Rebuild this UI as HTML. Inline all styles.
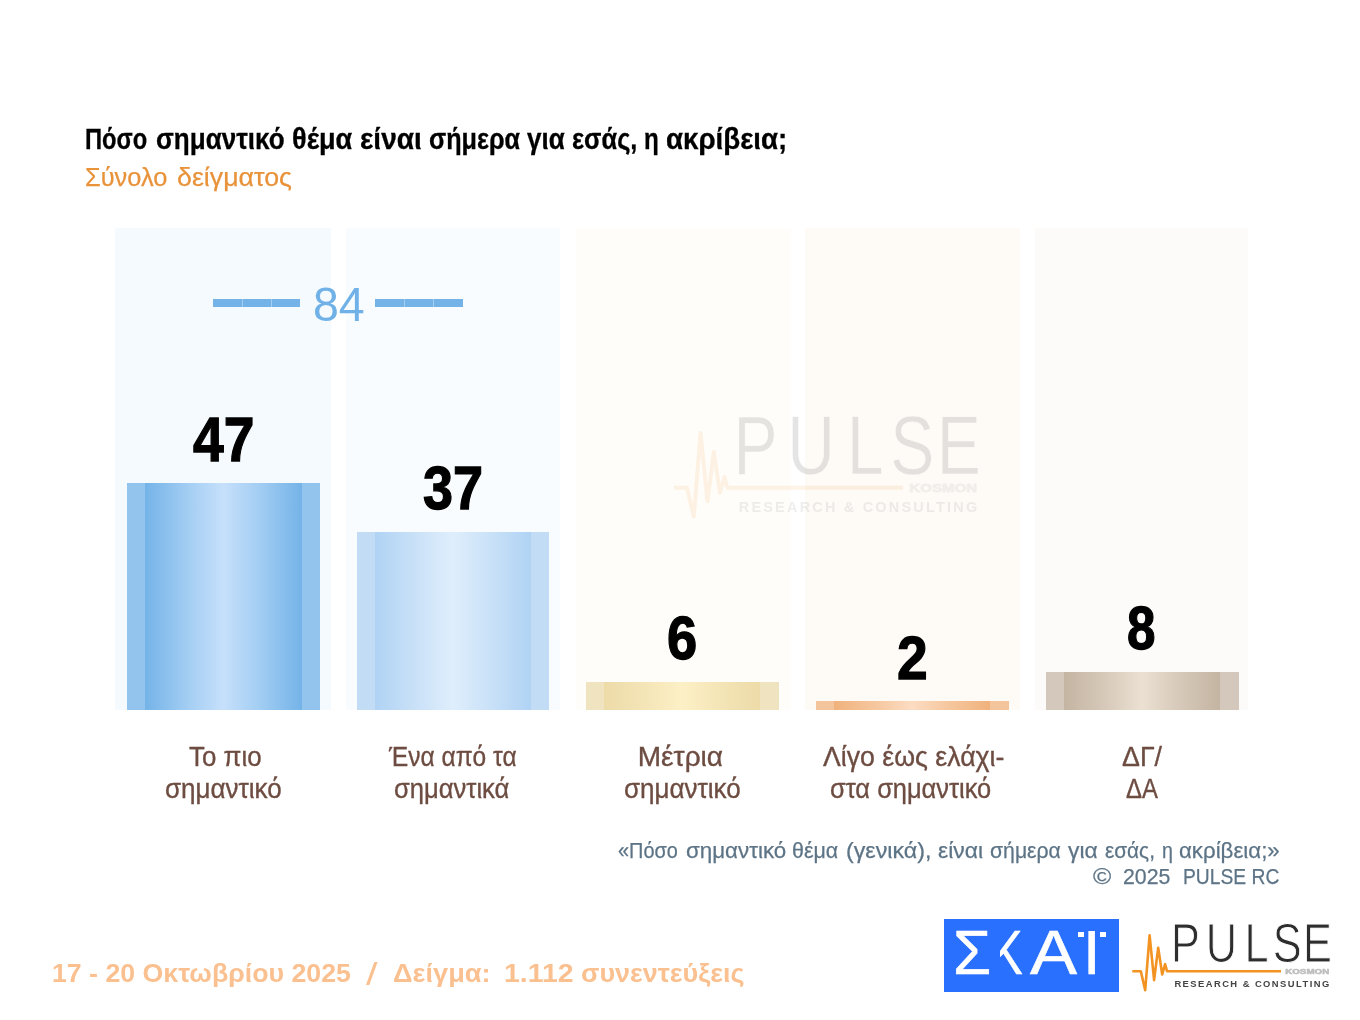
<!DOCTYPE html>
<html lang="el">
<head>
<meta charset="utf-8">
<title>Pulse RC</title>
<style>
html,body{margin:0;padding:0;background:#fff;}
body{width:1360px;height:1020px;position:relative;overflow:hidden;font-family:"Liberation Sans",sans-serif;}
.t{position:absolute;white-space:nowrap;transform-origin:0 0;line-height:1;display:block;}
.col{position:absolute;top:227.8px;height:482.4px;width:215.5px;}
.bar{position:absolute;width:193px;}
.bar>div{position:absolute;left:18px;right:18.5px;top:0;bottom:0;}
.num{font-weight:bold;color:#000;font-size:62.4px;-webkit-text-stroke:1.3px #000;}
.lab{color:#6d4c41;font-size:28px;-webkit-text-stroke:0.35px #6d4c41;}
.foot{color:#5d7486;font-size:22px;-webkit-text-stroke:0.25px #5d7486;}
.date{font-size:25px;font-weight:bold;color:#fac090;top:961px;}
.sk{color:#fff;font-size:63px;-webkit-text-stroke:0.6px #fff;}
.dash{position:absolute;top:298.8px;height:8.4px;background:#74b3e8;}
.dash i{position:absolute;top:0;bottom:0;width:0.8px;background:rgba(255,255,255,0.35);}
</style>
</head>
<body>
<!-- column backgrounds -->
<div class="col" style="left:115px;background:#f5fafe;"></div>
<div class="col" style="left:345.6px;width:214.8px;background:#f9fcfe;"></div>
<div class="col" style="left:575.6px;background:#fefdfa;"></div>
<div class="col" style="left:804.8px;background:#fefaf6;"></div>
<div class="col" style="left:1034.8px;width:213.6px;background:#fdfbf9;"></div>

<!-- bars -->
<div class="bar" id="b1" style="left:127px;top:483.3px;height:226.9px;background:#92c4ee;"><div style="background:linear-gradient(90deg,#74b3e8 0%,#a4cef3 28%,#c6e0fb 50%,#a4cef3 72%,#74b3e8 100%);"></div></div>
<div class="bar" id="b2" style="left:357px;top:531.8px;width:192.3px;height:178.4px;background:#c2dcf6;"><div style="background:linear-gradient(90deg,#b0d3f4 0%,#cbe2f8 28%,#dfeefc 50%,#cbe2f8 72%,#b0d3f4 100%);"></div></div>
<div class="bar" id="b3" style="left:585.5px;top:682.1px;height:28.1px;background:#f0e3bf;"><div style="background:linear-gradient(90deg,#eddba8 0%,#f5e6b8 28%,#fdf0c6 50%,#f5e6b8 72%,#eddba8 100%);"></div></div>
<div class="bar" id="b4" style="left:815.5px;top:701.0px;height:9.2px;background:#f4c59c;"><div style="background:linear-gradient(90deg,#f0b27c 0%,#f6c8a0 28%,#fcdcc2 50%,#f6c8a0 72%,#f0b27c 100%);"></div></div>
<div class="bar" id="b5" style="left:1045.5px;top:672.2px;height:38.0px;background:#d3c8bb;"><div style="background:linear-gradient(90deg,#c4b4a2 0%,#d8cbbb 28%,#ebe0d2 50%,#d8cbbb 72%,#c4b4a2 100%);"></div></div>

<!-- title -->
<div id="title" style="position:absolute;left:0;top:125.1px;font-size:28.6px;font-weight:bold;color:#000;-webkit-text-stroke:0.3px #000;"><span class="t" style="left:85.42px;top:0;transform:scaleX(0.8291);">Πόσο</span> <span class="t" style="left:155.59px;top:0;transform:scaleX(0.9107);">σημαντικό</span> <span class="t" style="left:292.35px;top:0;transform:scaleX(0.9484);">θέμα</span> <span class="t" style="left:360.02px;top:0;transform:scaleX(0.9820);">είναι</span> <span class="t" style="left:428.82px;top:0;transform:scaleX(0.8804);">σήμερα</span> <span class="t" style="left:527.40px;top:0;transform:scaleX(0.9098);">για</span> <span class="t" style="left:572.31px;top:0;transform:scaleX(0.8901);">εσάς,</span> <span class="t" style="left:644.15px;top:0;transform:scaleX(0.8467);">η</span> <span class="t" style="left:665.53px;top:0;transform:scaleX(0.9689);">ακρίβεια;</span></div>
<div id="sub" style="position:absolute;left:0;top:164.1px;font-size:26.5px;-webkit-text-stroke:0.25px #e8923a;color:#e8923a;"><span class="t" style="left:85.24px;top:0;transform:scaleX(0.9583);">Σύνολο</span> <span class="t" style="left:176.99px;top:0;transform:scaleX(1.0098);">δείγματος</span></div>

<!-- 84 -->
<div class="dash" style="left:213.4px;width:86.5px;"><i style="left:28.4px"></i><i style="left:57.3px"></i></div>
<div class="dash" style="left:375px;width:87.5px;"><i style="left:28.8px"></i><i style="left:57.9px"></i></div>
<div class="t" id="n84" style="left:312.6px;top:279.6px;font-size:48.6px;color:#70b1e8;transform:scaleX(0.957);">84</div>

<!-- numbers -->
<div class="t num" id="n47" style="left:193.3px;top:408.8px;transform:scaleX(0.885);">47</div>
<div class="t num" id="n37" style="left:423.3px;top:458px;font-size:61px;transform:scaleX(0.885);">37</div>
<div class="t num" id="n6" style="left:667px;top:607.5px;font-size:61px;transform:scaleX(0.89);">6</div>
<div class="t num" id="n2" style="left:897px;top:626.5px;font-size:62px;transform:scaleX(0.89);">2</div>
<div class="t num" id="n8" style="left:1127.3px;top:597.7px;font-size:61px;transform:scaleX(0.84);">8</div>

<!-- labels -->
<div class="t lab" id="l1a" style="left:188.5px;top:743px;transform:scaleX(0.925);">Το πιο</div>
<div class="t lab" id="l1b" style="left:165.2px;top:775.2px;transform:scaleX(0.929);">σημαντικό</div>
<div class="t lab" id="l2a" style="left:389.0px;top:743px;transform:scaleX(0.876);">Ένα από τα</div>
<div class="t lab" id="l2b" style="left:393.9px;top:775.2px;transform:scaleX(0.9135);">σημαντικά</div>
<div class="t lab" id="l3a" style="left:637.8px;top:743px;transform:scaleX(1.0);">Μέτρια</div>
<div class="t lab" id="l3b" style="left:623.6px;top:775.2px;transform:scaleX(0.929);">σημαντικό</div>
<div class="t lab" id="l4a" style="left:822.6px;top:743px;transform:scaleX(0.953);">Λίγο έως ελάχι-</div>
<div class="t lab" id="l4b" style="left:830.4px;top:775.2px;transform:scaleX(0.908);">στα σημαντικό</div>
<div class="t lab" id="l5a" style="left:1122.3px;top:743px;transform:scaleX(0.956);">ΔΓ/</div>
<div class="t lab" id="l5b" style="left:1126.3px;top:775.2px;transform:scaleX(0.854);">ΔΑ</div>

<!-- footnote -->
<div id="q1" class="foot" style="position:absolute;left:0;top:839.5px;"><span class="t" style="left:617.90px;top:0;transform:scaleX(0.9045);">«Πόσο</span> <span class="t" style="left:686.08px;top:0;transform:scaleX(1.0155);">σημαντικό</span> <span class="t" style="left:792.23px;top:0;transform:scaleX(0.9739);">θέμα</span> <span class="t" style="left:846.24px;top:0;transform:scaleX(1.0564);">(γενικά),</span> <span class="t" style="left:937.60px;top:0;transform:scaleX(1.0395);">είναι</span> <span class="t" style="left:989.64px;top:0;transform:scaleX(0.9639);">σήμερα</span> <span class="t" style="left:1068.20px;top:0;transform:scaleX(1.0393);">για</span> <span class="t" style="left:1105.00px;top:0;transform:scaleX(0.9451);">εσάς,</span> <span class="t" style="left:1162.01px;top:0;transform:scaleX(0.8900);">η</span> <span class="t" style="left:1178.69px;top:0;transform:scaleX(1.0122);">ακρίβεια;»</span></div>
<div class="t foot" id="q2a" style="left:1093px;top:866.3px;font-size:22.5px;transform:scaleX(1.1);">©</div>
<div class="t foot" id="q2b" style="left:1123px;top:866.3px;font-size:22.5px;transform:scaleX(0.947);">2025</div>
<div class="t foot" id="q2c" style="left:1182.8px;top:866.3px;font-size:22.5px;transform:scaleX(0.856);">PULSE RC</div>

<!-- bottom-left -->
<div class="t date" id="d1" style="left:52px;transform:scaleX(1.068);">17 - 20 Οκτωβρίου 2025</div>
<div class="t date" id="d2" style="left:366.2px;top:957.5px;font-size:32px;font-weight:normal;transform:scaleX(1.3);">/</div>
<div class="t date" id="d3" style="left:393px;transform:scaleX(1.088);">Δείγμα:</div>
<div class="t date" id="d4" style="left:503.5px;transform:scaleX(1.135);">1.112</div>
<div class="t date" id="d5" style="left:581px;transform:scaleX(1.077);">συνεντεύξεις</div>


<!-- SKAI logo -->
<div id="skai" style="position:absolute;left:944px;top:918.5px;width:174.5px;height:73.2px;background:#2970ff;overflow:hidden;">
  <div class="t sk" id="sk1" style="left:9px;top:2.6px;transform:scaleX(0.98);">Σ</div>
  <div class="t sk" id="sk2" style="left:47px;top:2.6px;transform:scaleX(0.75);">Κ</div>
  <div style="position:absolute;left:48px;top:8px;width:7.6px;height:52px;background:#2970ff;"></div>
  <div class="t sk" id="sk3" style="left:86px;top:2.6px;transform:scaleX(1.12);">Α</div>
  <div style="position:absolute;left:130px;top:12.6px;width:40px;height:50px;overflow:hidden;">
    <div class="t sk" id="sk4" style="left:9px;top:-10px;">Ϊ</div>
  </div>
  <div style="position:absolute;left:134.4px;top:13.3px;width:5.4px;height:5.4px;background:#fff;"></div>
  <div style="position:absolute;left:156.4px;top:13.3px;width:5.6px;height:5.4px;background:#fff;"></div>
</div>

<!-- PULSE logo -->
<svg id="pulse" style="position:absolute;left:1125px;top:910px;overflow:visible;" width="220" height="90" viewBox="0 0 220 90">
  <g transform="translate(49.4,14.2)">
    <polyline points="-42.1,47 -33.6,47 -29.2,66 -24.8,11 -20.3,56 -16.2,23.5 -12.2,50.3 -9.3,40 -7.4,47 106.6,47" fill="none" stroke="#f39322" stroke-width="2.6" stroke-linejoin="round"/>
    <text id="pw" transform="scale(0.78,1)" x="-4.47 40.28 89.88 126.1 164.8" y="38" font-family="Liberation Sans, sans-serif" font-size="55.6" fill="#2e2e2e" stroke="#fff" stroke-width="1">PULSE</text>
    <text id="pk" x="110.8" y="49.8" font-family="Liberation Sans, sans-serif" font-weight="bold" font-size="7.3" fill="#bdbdbd" stroke="#bdbdbd" stroke-width="0.5" textLength="44" lengthAdjust="spacingAndGlyphs">KOSMON</text>
    <text id="pr" x="0" y="62.7" font-family="Liberation Sans, sans-serif" font-weight="bold" font-size="9.4" fill="#444" textLength="154.8" lengthAdjust="spacing">RESEARCH &amp; CONSULTING</text>
  </g>
</svg>

<!-- watermark -->
<svg id="wm" style="position:absolute;left:660px;top:400px;overflow:visible;opacity:0.12;" width="340" height="130" viewBox="0 0 340 130">
  <g transform="translate(78.75,16.25) scale(1.54,1.52)">
    <polyline points="-42.1,47 -33.6,47 -29.2,66 -24.8,11 -20.3,56 -16.2,23.5 -12.2,50.3 -9.3,40 -7.4,47 106.6,47" fill="none" stroke="#f5a040" stroke-width="2.6" stroke-linejoin="round"/>
    <text transform="scale(0.78,1)" x="-4.47 40.28 89.88 126.1 164.8" y="38" font-family="Liberation Sans, sans-serif" font-size="55" fill="#2e2e2e" stroke="#fff" stroke-width="0.35">PULSE</text>
    <text x="110.8" y="49.8" font-family="Liberation Sans, sans-serif" font-weight="bold" font-size="7.3" fill="#999" stroke="#999" stroke-width="0.5" textLength="44" lengthAdjust="spacingAndGlyphs">KOSMON</text>
    <text x="0" y="62.7" font-family="Liberation Sans, sans-serif" font-weight="bold" font-size="9.4" fill="#777" textLength="154.8" lengthAdjust="spacing">RESEARCH &amp; CONSULTING</text>
  </g>
</svg>

</body>
</html>
